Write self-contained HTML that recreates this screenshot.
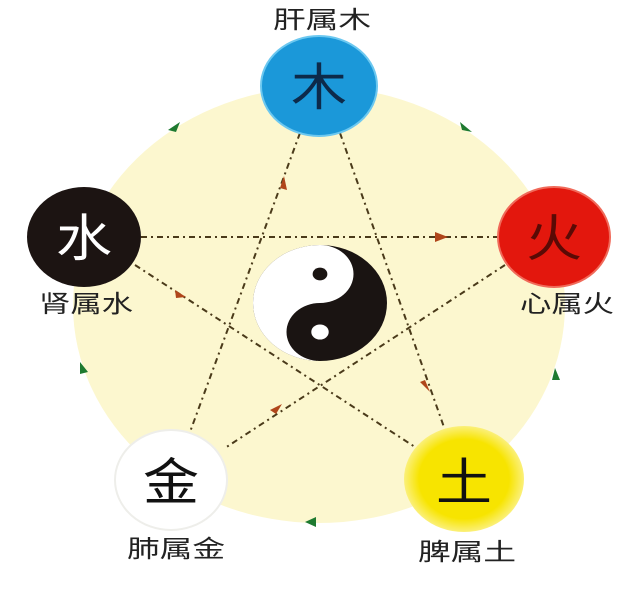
<!DOCTYPE html>
<html><head><meta charset="utf-8"><style>
body{margin:0;background:#fff;}
svg{display:block;}
text{font-family:"Liberation Sans","Noto Sans CJK SC",sans-serif;text-anchor:middle;}
</style></head><body>
<svg width="640" height="600" viewBox="0 0 640 600" xmlns="http://www.w3.org/2000/svg">
<defs>
<radialGradient id="yg"><stop offset="0.75" stop-color="#f7e400"/><stop offset="1" stop-color="#fbf07a"/></radialGradient>
</defs>
<ellipse cx="319" cy="305" rx="246" ry="218" fill="#fcf7cf"/>
<g stroke="#4a3a1a" stroke-width="2" stroke-dasharray="6,4,2,4" fill="none">
<line x1="300" y1="133" x2="190" y2="432"/>
<line x1="340" y1="133" x2="445" y2="430"/>
<line x1="141" y1="237" x2="498" y2="237"/>
<line x1="135" y1="265" x2="415" y2="447"/>
<line x1="505" y1="265" x2="225" y2="448"/>
</g>
<g fill="#b0461a">
<polygon points="280,188 284,176 287,190"/>
<polygon points="435,232 448,237 435,242"/>
<polygon points="425,380 430,392 420,382"/>
<polygon points="270,410 282,404 276,414"/>
<polygon points="175,290 186,297 176,298"/>
</g>
<g fill="#1e7a30">
<polygon points="168,130 180,122 176,132"/>
<polygon points="460,122 472,132 462,130"/>
<polygon points="80,362 88,372 80,374"/>
<polygon points="555,368 560,380 552,380"/>
<polygon points="305,522 316,517 316,527"/>
</g>
<g transform="translate(320,303) scale(67,58)">
<circle r="1" fill="#1a1412"/>
<path d="M0,-1 A1,1 0 0 0 0,1 A0.5,0.5 0 0 1 0,0 A0.5,0.5 0 0 0 0,-1Z" fill="#fff"/>
<circle cy="-0.5" r="0.11" fill="#1a1412"/>
<circle cy="0.5" r="0.13" fill="#fff"/>
</g>
<ellipse cx="319" cy="86" rx="58" ry="50" fill="#1b98d9" stroke="#6cc8f0" stroke-width="2"/>
<ellipse cx="84" cy="237" rx="57" ry="50" fill="#1c1412"/>
<ellipse cx="554" cy="237" rx="56" ry="50" fill="#e3170d" stroke="#f06a5a" stroke-width="2"/>
<ellipse cx="171" cy="480" rx="56" ry="50" fill="#fff" stroke="#eeeeea" stroke-width="2"/>
<ellipse cx="464" cy="479" rx="60" ry="53" fill="url(#yg)"/>
<g font-size="56">
<text transform="translate(319,105) scale(1,0.9)" fill="#0d2a4a">木</text>
<text transform="translate(84,256) scale(1,0.9)" fill="#fff">水</text>
<text transform="translate(554,256) scale(1,0.9)" fill="#5a0a05">火</text>
<text transform="translate(171,500) scale(1,0.9)" fill="#111">金</text>
<text transform="translate(464,500) scale(1,0.9)" fill="#111">土</text>
</g>
<g font-size="24" fill="#222">
<text x="322" y="28" textLength="98" lengthAdjust="spacingAndGlyphs">肝属木</text>
<text x="86" y="312" textLength="94" lengthAdjust="spacingAndGlyphs">肾属水</text>
<text x="567" y="312" textLength="94" lengthAdjust="spacingAndGlyphs">心属火</text>
<text x="176" y="557" textLength="98" lengthAdjust="spacingAndGlyphs">肺属金</text>
<text x="467" y="560" textLength="98" lengthAdjust="spacingAndGlyphs">脾属土</text>
</g>
</svg>
</body></html>
